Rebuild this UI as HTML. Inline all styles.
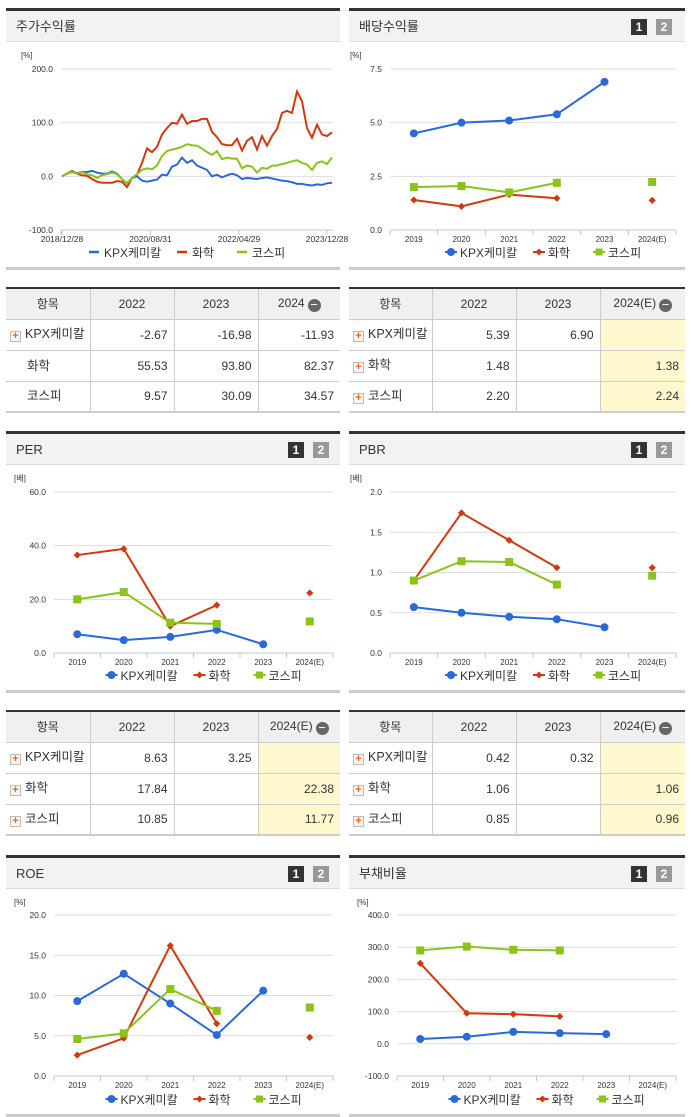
<!DOCTYPE html>
<html><head><meta charset="utf-8">
<style>
*{margin:0;padding:0;box-sizing:border-box}
body{width:691px;height:1115px;background:#fff;position:relative;overflow:hidden;font-family:"Liberation Sans","Noto Sans CJK KR",sans-serif;color:#333}
.panel{position:absolute;width:334px;height:262px;border-top:3px solid #333;border-bottom:3px solid #ccc}
.hdr{height:31px;background:#f2f2f2;border-bottom:1px solid #ddd;font-size:13px;line-height:31px;padding-left:10px;position:relative}
.btn{position:absolute;top:8px;width:16px;height:16px;font-size:12px;font-weight:bold;color:#fff;line-height:16px;text-align:center}
.panel svg{position:absolute;left:0;top:0;overflow:visible}
table{position:absolute;border-collapse:collapse;table-layout:fixed;border-top:2px solid #333;border-bottom:2px solid #ccc;font-size:12px;width:334px}
td,th{border:1px solid #ccc;height:31px;font-weight:normal;white-space:nowrap;overflow:hidden;line-height:14px;padding-top:0;padding-bottom:0}
tr td:first-child,tr th:first-child{border-left:none}
tr td:last-child,tr th:last-child{border-right:none}
th{background:#f0f0f0;text-align:center}
td{text-align:right;padding-right:6px}
td.n{text-align:left;padding-left:4px;font-size:12.5px}
td.y{background:#fff8cf}
.pl{display:inline-block;width:11px;height:11px;border:1px solid #bbb;background:#f6f6f6;color:#f60;font-size:11px;line-height:9px;text-align:center;font-weight:bold;margin-right:4px;vertical-align:-1px}
.mi{display:inline-block;width:13px;height:13px;border-radius:50%;background:#666;color:#fff;line-height:12px;font-size:13px;text-align:center;vertical-align:-2px;margin-left:3px}
</style></head><body>

<div class="panel" style="left:6px;top:8px">
<div class="hdr">주가수익률</div>
<svg id="c0" width="334" height="258"></svg></div>

<div class="panel" style="left:349px;top:8px;width:336px">
<div class="hdr">배당수익률<span class="btn" style="left:282px;background:#333">1</span><span class="btn" style="left:307px;background:#999">2</span></div>
<svg id="c1" width="336" height="258"></svg></div>

<table style="left:6px;top:287px">
<tr><th style="width:84px">항목</th><th style="width:84px">2022</th><th style="width:84px">2023</th><th>2024<span class="mi">−</span></th></tr>
<tr><td class="n"><span class="pl">+</span>KPX케미칼</td><td>-2.67</td><td>-16.98</td><td>-11.93</td></tr>
<tr><td class="n" style="padding-left:21px">화학</td><td>55.53</td><td>93.80</td><td>82.37</td></tr>
<tr><td class="n" style="padding-left:21px">코스피</td><td>9.57</td><td>30.09</td><td>34.57</td></tr>
</table>

<table style="left:349px;top:287px;width:336px">
<tr><th style="width:83px">항목</th><th style="width:84px">2022</th><th style="width:84px">2023</th><th>2024(E)<span class="mi">−</span></th></tr>
<tr><td class="n"><span class="pl">+</span>KPX케미칼</td><td>5.39</td><td>6.90</td><td class="y"></td></tr>
<tr><td class="n"><span class="pl">+</span>화학</td><td>1.48</td><td></td><td class="y">1.38</td></tr>
<tr><td class="n"><span class="pl">+</span>코스피</td><td>2.20</td><td></td><td class="y">2.24</td></tr>
</table>

<div class="panel" style="left:6px;top:431px">
<div class="hdr">PER<span class="btn" style="left:282px;background:#333">1</span><span class="btn" style="left:307px;background:#999">2</span></div>
<svg id="c2" width="334" height="258"></svg></div>

<div class="panel" style="left:349px;top:431px;width:336px">
<div class="hdr">PBR<span class="btn" style="left:282px;background:#333">1</span><span class="btn" style="left:307px;background:#999">2</span></div>
<svg id="c3" width="336" height="258"></svg></div>

<table style="left:6px;top:710px">
<tr><th style="width:84px">항목</th><th style="width:84px">2022</th><th style="width:84px">2023</th><th>2024(E)<span class="mi">−</span></th></tr>
<tr><td class="n"><span class="pl">+</span>KPX케미칼</td><td>8.63</td><td>3.25</td><td class="y"></td></tr>
<tr><td class="n"><span class="pl">+</span>화학</td><td>17.84</td><td></td><td class="y">22.38</td></tr>
<tr><td class="n"><span class="pl">+</span>코스피</td><td>10.85</td><td></td><td class="y">11.77</td></tr>
</table>

<table style="left:349px;top:710px;width:336px">
<tr><th style="width:83px">항목</th><th style="width:84px">2022</th><th style="width:84px">2023</th><th>2024(E)<span class="mi">−</span></th></tr>
<tr><td class="n"><span class="pl">+</span>KPX케미칼</td><td>0.42</td><td>0.32</td><td class="y"></td></tr>
<tr><td class="n"><span class="pl">+</span>화학</td><td>1.06</td><td></td><td class="y">1.06</td></tr>
<tr><td class="n"><span class="pl">+</span>코스피</td><td>0.85</td><td></td><td class="y">0.96</td></tr>
</table>

<div class="panel" style="left:6px;top:855px">
<div class="hdr">ROE<span class="btn" style="left:282px;background:#333">1</span><span class="btn" style="left:307px;background:#999">2</span></div>
<svg id="c4" width="334" height="258"></svg></div>

<div class="panel" style="left:349px;top:855px;width:336px">
<div class="hdr">부채비율<span class="btn" style="left:282px;background:#333">1</span><span class="btn" style="left:307px;background:#999">2</span></div>
<svg id="c5" width="336" height="258"></svg></div>

<script>
const seriesNames=["KPX케미칼","화학","코스피"];
const colors=["#2a6ad8","#d03a0e","#8cc21c"];
const years=["2019","2020","2021","2022","2023","2024(E)"];
// stock return (55 samples)
const kpxRet=[0,5,8,6,8,8,10,7,5,5,9,5,-5,-13,-3,0,-8,-10,-8,-6,3,2,18,22,35,25,30,20,16,12,0,3,-2,2,5,2,-5,-3,-4,-5,-3,-2,-4,-6,-8,-9,-11,-14,-14,-16,-17,-15,-16,-13,-12];
const chemRet=[0,5,10,5,2,1,-5,-10,-12,-12,-12,-9,-10,-20,-3,3,25,52,45,55,78,90,100,98,115,98,103,103,107,107,83,73,60,58,58,70,48,66,73,50,75,57,75,88,118,122,118,158,140,90,72,96,78,75,82];
const kospiRet=[0,5,8,5,8,4,2,-3,2,4,7,4,-5,-13,-3,4,12,15,13,20,38,47,50,52,55,60,58,57,52,45,40,47,32,35,33,33,15,20,18,7,16,14,20,20,23,25,28,30,25,22,12,25,28,23,35];
const retTickLabels=["2018/12/28","2020/08/31","2022/04/29","2023/12/28"];
const retTickIdx=[0,17.7,35.4,53];
const retYTicks=[-100,0,100,200];
const divKpx=[4.5,5.0,5.1,5.39,6.90,null];
const divChem=[1.4,1.1,1.65,1.48,null,1.38];
const divKospi=[2.0,2.05,1.75,2.20,null,2.24];
const divYTicks=[0,2.5,5,7.5];
const perKpx=[7.0,4.8,6.0,8.63,3.25,null];
const perChem=[36.5,38.8,10,17.84,null,22.38];
const perKospi=[20,22.7,11.3,10.85,null,11.77];
const perYTicks=[0,20,40,60];
const pbrKpx=[0.57,0.50,0.45,0.42,0.32,null];
const pbrChem=[0.9,1.74,1.40,1.06,null,1.06];
const pbrKospi=[0.9,1.14,1.13,0.85,null,0.96];
const pbrYTicks=[0,0.5,1,1.5,2];
const roeKpx=[9.3,12.7,9.0,5.1,10.6,null];
const roeChem=[2.6,4.7,16.2,6.5,null,4.8];
const roeKospi=[4.6,5.3,10.8,8.1,null,8.5];
const roeYTicks=[0,5,10,15,20];
const debtKpx=[15,22,37,33,30,null];
const debtChem=[250,95,92,85,null,null];
const debtKospi=[290,302,292,290,null,null];
const debtYTicks=[-100,0,100,200,300,400];

const NS="http://www.w3.org/2000/svg";
function mk(svg,tag,attrs,txt){const e=document.createElementNS(NS,tag);for(const k in attrs)e.setAttribute(k,attrs[k]);if(txt!==undefined)e.textContent=txt;svg.appendChild(e);return e;}

function frame(svg,x0,x1,yTop,yBot,ticks,fmt,unit,axis){
  const mn=ticks[0],mx=ticks[ticks.length-1];
  const ys=v=>yBot-(v-mn)/(mx-mn)*(yBot-yTop);
  let t=mk(svg,'text',{x:x0-40,y:47,'font-size':8,fill:'#333'},unit);
  
  ticks.forEach(v=>{
    let g=mk(svg,'line',{x1:x0,x2:x1,y1:ys(v),y2:ys(v),stroke:v===mn?'#bcc8d8':'#ddd','stroke-width':1});
    
    let l=mk(svg,'text',{x:x0-8,y:ys(v)+3,'font-size':8.5,'text-anchor':'end',fill:'#333'},fmt(v));
    
  });
  if(axis){let ax=mk(svg,'line',{x1:x0,x2:x0,y1:yTop,y2:yBot,stroke:'#bcc8d8'});
  }
  return ys;
}
function legend(svg,cx,y,markers){
  const w=[72,44,52];let x=cx-84;
  seriesNames.forEach((n,i)=>{
    if(markers){mk(svg,'line',{x1:x,x2:x+12,y1:y-4,y2:y-4,stroke:colors[i],'stroke-width':2});drawMarker(svg,i,x+6,y-4,i===0?4:3.5);}
    else mk(svg,'line',{x1:x,x2:x+10,y1:y-4,y2:y-4,stroke:colors[i],'stroke-width':2.5});
    let t=mk(svg,'text',{x:x+15,y:y+1,'font-size':12,fill:'#333'},n);
    
    x+=w[i]+16;
  });
}
function drawMarker(svg,i,x,y,r){
  let m;
  if(i===0)m=mk(svg,'circle',{cx:x,cy:y,r:r||4,fill:colors[0]});
  else if(i===1){const s=r||3.6;m=mk(svg,'polygon',{points:`${x},${y-s} ${x+s},${y} ${x},${y+s} ${x-s},${y}`,fill:colors[1]});}
  else{const s=r||4;m=mk(svg,'rect',{x:x-s,y:y-s,width:2*s,height:2*s,fill:colors[2]});}
  
}

(function(){
  const svg=document.getElementById('c0');
  const x0=55,x1=327,yTop=58,yBot=219;
  const ys=frame(svg,x0,x1,yTop,yBot,retYTicks,v=>v.toFixed(1),'[%]',false);
  mk(svg,'line',{x1:x0,x2:x0,y1:yBot,y2:yBot+5,stroke:'#bcc8d8'});
  const n=kpxRet.length;const xs=i=>x0+1+i/(n-1)*(x1-x0-2);
  retTickLabels.forEach((l,k)=>{
    const x=xs(retTickIdx[k]);
    mk(svg,'line',{x1:x,x2:x,y1:yBot,y2:yBot+5,stroke:'#bcc8d8'});
    let t=mk(svg,'text',{x:x,y:yBot+12,'font-size':8.5,'text-anchor':'middle',fill:'#333'},l);
    
  });
  [[kpxRet,0],[chemRet,1],[kospiRet,2]].forEach(([d,i])=>{
    let p=mk(svg,'polyline',{points:d.map((v,j)=>xs(j)+','+ys(v)).join(' '),fill:'none',stroke:colors[i],'stroke-width':2});
    
  });
  legend(svg,167,245,false);
})();

function yearChart(id,x0,x1,yTop,yBot,ticks,fmt,unit,data){
  const svg=document.getElementById(id);
  const ys=frame(svg,x0,x1,yTop,yBot,ticks,fmt,unit,false);
  const sw=(x1-x0)/years.length;const xs=i=>x0+sw*(i+0.5);
  years.forEach((y,i)=>{
    mk(svg,'line',{x1:x0+sw*(i+1),x2:x0+sw*(i+1),y1:yBot,y2:yBot+5,stroke:'#bcc8d8'});
    let t=mk(svg,'text',{x:xs(i),y:yBot+12,'font-size':8,'text-anchor':'middle',fill:'#333'},y);
    
  });
  mk(svg,'line',{x1:x0,x2:x0,y1:yBot,y2:yBot+5,stroke:'#bcc8d8'});
  data.forEach((d,i)=>{
    let seg=[];
    const flush=()=>{if(seg.length>1){let p=mk(svg,'polyline',{points:seg.join(' '),fill:'none',stroke:colors[i],'stroke-width':2});}seg=[];};
    d.forEach((v,j)=>{if(v===null){flush();return;} if(j===5)flush(); seg.push(xs(j)+','+ys(v));});
    flush();
    d.forEach((v,j)=>{if(v!==null)drawMarker(svg,i,xs(j),ys(v));});
  });
  legend(svg,(x0+x1)/2-4,245,true);
}
yearChart('c1',41,327,58,219,divYTicks,v=>v.toFixed(1),'[%]',[divKpx,divChem,divKospi]);
yearChart('c2',48,327,58,219,perYTicks,v=>v.toFixed(1),'[배]',[perKpx,perChem,perKospi]);
yearChart('c3',41,327,58,219,pbrYTicks,v=>v.toFixed(1),'[배]',[pbrKpx,pbrChem,pbrKospi]);
yearChart('c4',48,327,57,218,roeYTicks,v=>v.toFixed(1),'[%]',[roeKpx,roeChem,roeKospi]);
yearChart('c5',48,327,57,218,debtYTicks,v=>v.toFixed(1),'[%]',[debtKpx,debtChem,debtKospi]);
</script>
</body></html>
